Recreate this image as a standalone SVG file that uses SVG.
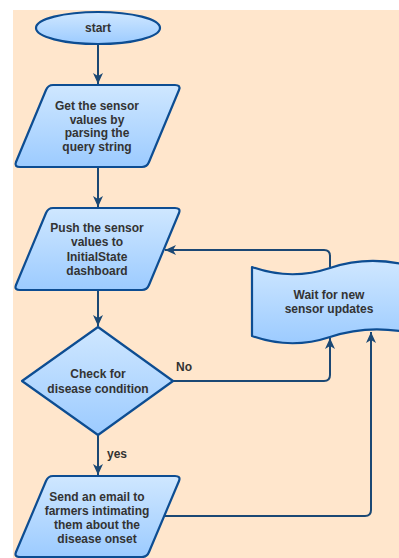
<svg xmlns="http://www.w3.org/2000/svg" width="399" height="558" viewBox="0 0 399 558">
<defs>
<linearGradient id="g" x1="0" y1="0" x2="0" y2="1">
<stop offset="0" stop-color="#cfe7ff"/>
<stop offset="1" stop-color="#9ccbff"/>
</linearGradient>
<marker id="arr" markerUnits="userSpaceOnUse" markerWidth="12" markerHeight="12" viewBox="0 0 12 12" refX="11" refY="6" orient="auto">
<path d="M0,1 L11,6 L0,11 L3,6 Z" fill="#1b4874"/>
</marker>
</defs>
<style>
.shape{fill:url(#g);stroke:#0d4d92;stroke-width:2.2;stroke-linejoin:round}
.conn{fill:none;stroke:#1b4874;stroke-width:2}
text{font-family:"Liberation Sans",Arial,sans-serif;font-size:12px;font-weight:bold;fill:#333333;text-anchor:middle}
</style>
<rect x="13" y="10" width="386" height="548" fill="#ffe6cc"/>
<g id="connectors">
<path class="conn" d="M98,44 L98,84" marker-end="url(#arr)"/>
<path class="conn" d="M98,167 L98,207" marker-end="url(#arr)"/>
<path class="conn" d="M98,290 L98,326" marker-end="url(#arr)"/>
<path class="conn" d="M98,435 L98,475" marker-end="url(#arr)"/>
<path class="conn" d="M330,267 L330,256 Q330,250 324,250 L165,250" marker-end="url(#arr)"/>
<path class="conn" d="M173,381 L324,381 Q330,381 330,375 L330,338" marker-end="url(#arr)"/>
<path class="conn" d="M164,516 L365,516 Q371,516 371,510 L371,332" marker-end="url(#arr)"/>
<text x="176" y="371" style="text-anchor:start">No</text>
<text x="107" y="458" style="text-anchor:start">yes</text>
</g>
<g id="start">
<ellipse class="shape" cx="98" cy="28" rx="62" ry="16"/>
<text x="98" y="32">start</text>
</g>
<g id="get-values">
<path class="shape" d="M53,85 L175,85 Q181,85 179,90 L149,162 Q147,167 142,167 L20,167 Q14,167 16,162 L46,90 Q48,85 53,85 Z"/>
<text x="97" y="110">Get the sensor</text>
<text x="97" y="123.7">values by</text>
<text x="97" y="137.4">parsing the</text>
<text x="97" y="151">query string</text>
</g>
<g id="push-values">
<path class="shape" d="M53,208 L175,208 Q181,208 179,213 L149,285 Q147,290 142,290 L20,290 Q14,290 16,285 L46,213 Q48,208 53,208 Z"/>
<text x="97" y="232">Push the sensor</text>
<text x="97" y="246.3">values to</text>
<text x="97" y="260.6">InitialState</text>
<text x="97" y="275">dashboard</text>
</g>
<g id="check">
<path class="shape" d="M98,327 L173,381 L98,435 L22,381 Z"/>
<text x="98" y="378">Check for</text>
<text x="98" y="392.5">disease condition</text>
</g>
<g id="wait">
<path class="shape" d="M252,267 Q291,281 330,268 Q369,255 410,266 L410,333 Q369,324 330,337 Q291,350 252,336 Z"/>
<text x="329" y="299">Wait for new</text>
<text x="329" y="313.3">sensor updates</text>
</g>
<g id="send-email">
<path class="shape" d="M53,476 L175,476 Q181,476 179,481 L149,552 Q147,557 142,557 L20,557 Q14,557 16,552 L46,481 Q48,476 53,476 Z"/>
<text x="97" y="501">Send an email to</text>
<text x="97" y="515">farmers intimating</text>
<text x="97" y="529">them about the</text>
<text x="97" y="543">disease onset</text>
</g>
</svg>
